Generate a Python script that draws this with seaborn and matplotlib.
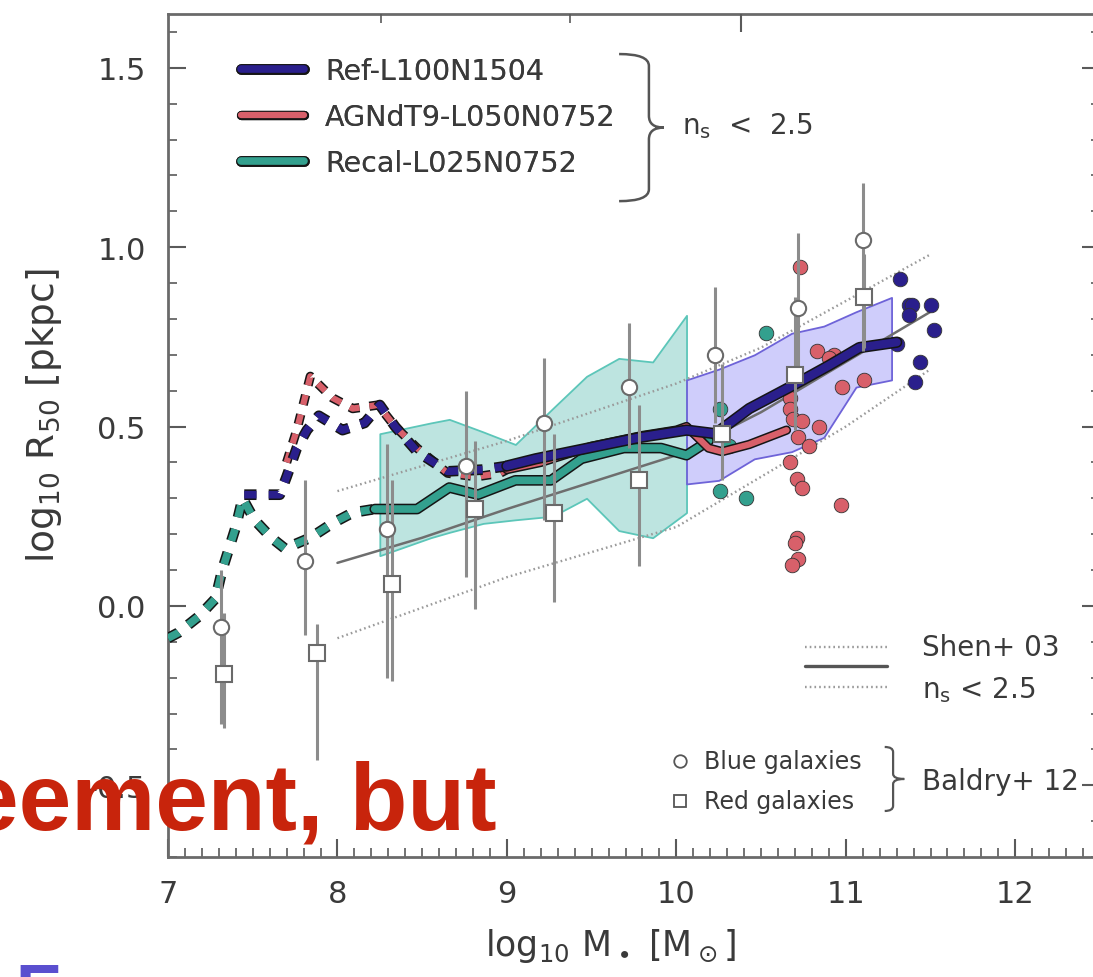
import matplotlib
matplotlib.use("Agg")
import matplotlib.pyplot as plt
import matplotlib.patheffects as pe
from matplotlib.path import Path
from matplotlib.patches import PathPatch
from matplotlib.lines import Line2D
import numpy as np
import seaborn as sns

# EAGLE medians, log10 M* vs log10 R50 (dashed = poorly resolved part)
ref_dash_x = [7.45, 7.66, 7.70, 7.76, 7.82, 7.89, 8.03, 8.16, 8.25, 8.34, 8.47, 8.65, 8.86, 9.0]
ref_dash_y = [0.31, 0.31, 0.36, 0.44, 0.49, 0.53, 0.49, 0.51, 0.56, 0.50, 0.43, 0.375, 0.38, 0.39]
ref_x = [9.0, 9.17, 9.48, 9.79, 10.06, 10.23, 10.43, 10.67, 10.90, 11.08, 11.30]
ref_y = [0.39, 0.41, 0.44, 0.47, 0.49, 0.48, 0.55, 0.61, 0.67, 0.72, 0.735]

agn_dash_x = [7.70, 7.76, 7.84, 7.97, 8.09, 8.24, 8.34, 8.47, 8.65, 8.82, 8.96, 9.0]
agn_dash_y = [0.40, 0.49, 0.64, 0.58, 0.55, 0.56, 0.50, 0.44, 0.37, 0.36, 0.37, 0.38]
agn_x = [9.0, 9.2, 9.5, 9.8, 10.0, 10.06, 10.19, 10.27, 10.43, 10.65]
agn_y = [0.38, 0.40, 0.445, 0.475, 0.49, 0.50, 0.44, 0.43, 0.45, 0.49]

recal_dash_x = [7.0, 7.06, 7.18, 7.28, 7.32, 7.36, 7.40, 7.44, 7.51, 7.61, 7.69, 7.84, 7.97, 8.09, 8.22]
recal_dash_y = [-0.09, -0.075, -0.03, 0.02, 0.10, 0.16, 0.22, 0.30, 0.24, 0.19, 0.16, 0.19, 0.23, 0.26, 0.27]
recal_x = [8.22, 8.47, 8.66, 8.83, 9.05, 9.26, 9.44, 9.69, 9.91, 10.06, 10.19]
recal_y = [0.27, 0.27, 0.33, 0.31, 0.35, 0.35, 0.41, 0.44, 0.44, 0.42, 0.46]

# scatter bands (10th-90th percentiles)
recal_band_x = [8.25, 8.55, 8.66, 8.86, 9.05, 9.27, 9.47, 9.66, 9.86, 10.06]
recal_band_hi = [0.48, 0.51, 0.52, 0.485, 0.45, 0.55, 0.64, 0.69, 0.68, 0.81]
recal_band_lo = [0.14, 0.19, 0.205, 0.23, 0.24, 0.25, 0.30, 0.21, 0.19, 0.26]
ref_band_x = [10.06, 10.25, 10.46, 10.68, 10.87, 11.06, 11.27]
ref_band_hi = [0.63, 0.66, 0.70, 0.76, 0.78, 0.82, 0.86]
ref_band_lo = [0.34, 0.35, 0.41, 0.43, 0.47, 0.61, 0.63]

# individual galaxies in sparsely sampled bins
ref_pts_x = [11.32, 11.37, 11.39, 11.37, 11.50, 11.52, 11.30, 11.44, 11.41]
ref_pts_y = [0.91, 0.84, 0.84, 0.81, 0.84, 0.77, 0.73, 0.68, 0.625]
agn_pts_x = [10.73, 10.83, 10.93, 10.90, 11.11, 10.98, 10.67, 10.67, 10.69, 10.74, 10.84,
             10.72, 10.78, 10.67, 10.71, 10.74, 10.97, 10.71, 10.70, 10.72, 10.68]
agn_pts_y = [0.945, 0.71, 0.70, 0.69, 0.63, 0.61, 0.58, 0.55, 0.52, 0.515, 0.50,
             0.47, 0.445, 0.40, 0.355, 0.33, 0.28, 0.19, 0.175, 0.13, 0.115]
recal_pts_x = [10.53, 10.26, 10.31, 10.26, 10.41]
recal_pts_y = [0.76, 0.55, 0.445, 0.32, 0.30]

# Shen et al. 2003, late types
shen_x = [8.0, 8.5, 9.0, 9.5, 10.0, 10.5, 11.0, 11.5]
shen_mid = [0.12, 0.19, 0.27, 0.345, 0.42, 0.54, 0.68, 0.82]
shen_hi = [0.32, 0.39, 0.46, 0.54, 0.62, 0.72, 0.85, 0.98]
shen_lo = [-0.09, -0.005, 0.08, 0.15, 0.22, 0.36, 0.50, 0.66]

# Baldry et al. 2012
blue_x = [7.31, 7.81, 8.29, 8.76, 9.22, 9.72, 10.23, 10.72, 11.10]
blue_y = [-0.06, 0.125, 0.215, 0.39, 0.51, 0.61, 0.70, 0.83, 1.02]
blue_lo = [-0.33, -0.08, -0.20, 0.08, 0.24, 0.44, 0.51, 0.62, 0.71]
blue_hi = [0.10, 0.35, 0.45, 0.60, 0.69, 0.79, 0.89, 1.04, 1.18]
red_x = [7.33, 7.88, 8.32, 8.81, 9.28, 9.78, 10.27, 10.70, 11.11]
red_y = [-0.19, -0.13, 0.06, 0.27, 0.26, 0.35, 0.48, 0.645, 0.86]
red_lo = [-0.34, -0.43, -0.21, -0.01, 0.01, 0.11, 0.35, 0.49, 0.72]
red_hi = [-0.02, -0.05, 0.35, 0.46, 0.48, 0.56, 0.675, 0.86, 0.98]

y_major = [-0.5, 0.0, 0.5, 1.0, 1.5]
top_major = [10.38]
top_minor = [8.255, 9.375]

navy = "#2a1f8c"
red = "#d8606a"
teal = "#33a08e"
gray = "#8c8c8c"
txt = "#3a3a3a"

sns.set_style("ticks")
plt.rcParams["font.family"] = ["DejaVu Sans"]
plt.rcParams["axes.unicode_minus"] = False

fig = plt.figure(figsize=(10.93, 9.78), dpi=100)
ax = fig.add_axes([168 / 1093, 120 / 978, (1100 - 168) / 1093, (858 - 15) / 978])


def outline(w):
    return [pe.Stroke(linewidth=w, foreground="#151515"), pe.Normal()]


dash = (0, (1.6, 1.6))

# bands
ax.fill_between(recal_band_x, recal_band_lo, recal_band_hi, color="#bde4e0",
                edgecolor="#5cc6b9", lw=1.3, zorder=1)
ax.fill_between(ref_band_x, ref_band_lo, ref_band_hi, color="#cfcdfb",
                edgecolor="#6e63d8", lw=1.3, zorder=1)

# Shen+03
sns.lineplot(x=shen_x, y=shen_mid, ax=ax, color="#6e6e6e", lw=1.8, zorder=2,
             estimator=None, sort=False, legend=False)
for yy in (shen_hi, shen_lo):
    sns.lineplot(x=shen_x, y=yy, ax=ax, color="#9a9a9a", lw=1.7, zorder=2,
                 linestyle=(0, (0.7, 1.3)), estimator=None, sort=False, legend=False)

# EAGLE medians
for xs, ys, c, w, ls in [
    (recal_dash_x, recal_dash_y, teal, 5.5, dash),
    (recal_x, recal_y, teal, 5.5, "-"),
    (agn_dash_x, agn_dash_y, red, 4.5, dash),
    (agn_x, agn_y, red, 4.5, "-"),
    (ref_dash_x, ref_dash_y, navy, 5.5, dash),
    (ref_x, ref_y, navy, 6.0, "-"),
]:
    sns.lineplot(x=xs, y=ys, ax=ax, color=c, lw=w, linestyle=ls, zorder=4,
                 path_effects=outline(w + 2.2), estimator=None, sort=False,
                 legend=False)

# individual galaxies
for xs, ys, c in [(agn_pts_x, agn_pts_y, red), (recal_pts_x, recal_pts_y, teal),
                  (ref_pts_x, ref_pts_y, navy)]:
    sns.scatterplot(x=xs, y=ys, ax=ax, color=c, s=110, edgecolor="#333333",
                    linewidth=0.6, zorder=3.5, legend=False)

# Baldry+12
for xs, ys, lo, hi, m in [(blue_x, blue_y, blue_lo, blue_hi, "o"),
                          (red_x, red_y, red_lo, red_hi, "s")]:
    ys_a = np.array(ys)
    err = [ys_a - np.array(lo), np.array(hi) - ys_a]
    ax.errorbar(xs, ys, yerr=err, fmt=m, ms=11, mfc="white", mec="#6a6a6a",
                mew=1.5, ecolor=gray, elinewidth=2.2, capsize=0, zorder=6)

ax.set_xlim(7, 12.5)
ax.set_ylim(-0.7, 1.65)
ax.set_xticks(range(7, 13))
ax.set_xticks(np.arange(7, 12.55, 0.1), minor=True)
ax.set_yticks(y_major)
ax.set_yticks(np.arange(-0.7, 1.66, 0.1), minor=True)
ax.set_yticklabels([f"{v:.1f}" for v in y_major])
ax.tick_params(which="both", direction="in", top=False, right=True,
               colors="#5a5a5a", labelcolor=txt, labelsize=22, pad=16)
ax.tick_params(which="major", length=13, width=1.5)
ax.tick_params(which="minor", length=6.5, width=1.2)
for s in ax.spines.values():
    s.set_color("#6a6a6a")
    s.set_linewidth(2)

top = ax.twiny()
top.set_xlim(ax.get_xlim())
top.set_xticks(top_major)
top.set_xticks(top_minor, minor=True)
top.tick_params(which="both", direction="in", labeltop=False, colors="#5a5a5a")
top.tick_params(which="major", length=13, width=1.5)
top.tick_params(which="minor", length=6.5, width=1.2)
for s in top.spines.values():
    s.set_visible(False)

ax.set_xlabel(r"log$_{10}$ M$_\bullet$ [M$_\odot$]", fontsize=25, color=txt)
ax.xaxis.set_label_coords(0.475, -0.082)
ax.set_ylabel(r"log$_{10}$ R$_{50}$ [pkpc]", fontsize=27, color=txt)
ax.yaxis.set_label_coords(-0.112, 0.525)

# legend of simulations
handles = [Line2D([], [], color=c, lw=w, path_effects=outline(w + 2.2))
           for c, w in [(navy, 5.5), (red, 4.5), (teal, 5.5)]]
leg = ax.legend(handles, ["Ref-L100N1504", "AGNdT9-L050N0752", "Recal-L025N0752"],
                loc="upper left", bbox_to_anchor=(0.066, 0.962), frameon=False,
                fontsize=20.5, handlelength=2.2, handletextpad=0.75,
                labelspacing=0.62, borderaxespad=0, labelcolor=txt)
ax.add_artist(leg)


def brace(x0, xv, x1, y0, y1, **kw):
    ym = (y0 + y1) / 2
    hy = (y1 - y0) * 0.08
    verts = [(x0, y1), (xv, y1), (xv, y1 - hy), (xv, ym + hy), (xv, ym), (x1, ym),
             (xv, ym), (xv, ym - hy), (xv, y0 + hy), (xv, y0), (x0, y0)]
    codes = [Path.MOVETO, Path.CURVE3, Path.CURVE3, Path.LINETO, Path.CURVE3, Path.CURVE3,
             Path.CURVE3, Path.CURVE3, Path.LINETO, Path.CURVE3, Path.CURVE3]
    ax.add_patch(PathPatch(Path(verts, codes), transform=ax.transAxes, fill=False,
                           clip_on=False, **kw))


brace(0.484, 0.516, 0.532, 0.778, 0.9525, ec="#555555", lw=1.8)
ax.text(0.552, 0.868, r"n$_\mathregular{s}$  <  2.5", transform=ax.transAxes,
        fontsize=20, color=txt, va="center")

# Shen+03 key
for yk, ls, w, c in [(0.249, (0, (0.7, 1.3)), 1.7, "#9a9a9a"), (0.2266, "-", 2.4, "#555555"),
                     (0.2017, (0, (0.7, 1.3)), 1.7, "#9a9a9a")]:
    ax.add_line(Line2D([0.684, 0.771], [yk, yk], transform=ax.transAxes, color=c,
                       lw=w, linestyle=ls))
ax.text(0.809, 0.249, "Shen+ 03", transform=ax.transAxes, fontsize=20, color=txt,
        va="center")
ax.text(0.809, 0.199, r"n$_\mathregular{s}$ < 2.5", transform=ax.transAxes, fontsize=20,
        color=txt, va="center")

# Baldry+12 key
ax.plot([0.549], [0.114], "o", transform=ax.transAxes, ms=9, mfc="white", mec="#555555",
        mew=1.3)
ax.plot([0.549], [0.066], "s", transform=ax.transAxes, ms=9, mfc="white", mec="#555555",
        mew=1.3)
ax.text(0.575, 0.114, "Blue galaxies", transform=ax.transAxes, fontsize=17, color=txt,
        va="center")
ax.text(0.575, 0.066, "Red galaxies", transform=ax.transAxes, fontsize=17, color=txt,
        va="center")
brace(0.769, 0.778, 0.790, 0.0546, 0.1305, ec="#555555", lw=1.6)
ax.text(0.809, 0.090, "Baldry+ 12", transform=ax.transAxes, fontsize=20, color=txt,
        va="center")

# slide overlay text
fig.text(497 / 1093, (978 - 830) / 978, "eement, but", ha="right", va="baseline",
         fontsize=68, weight="bold", color="#c8240c", family="Liberation Sans")
fig.text(15 / 1093, -34 / 978, "E", ha="left", va="baseline", fontsize=50,
         weight="bold", color="#5a4fcf", family="Liberation Sans")

fig.savefig("out.png", dpi=100)
